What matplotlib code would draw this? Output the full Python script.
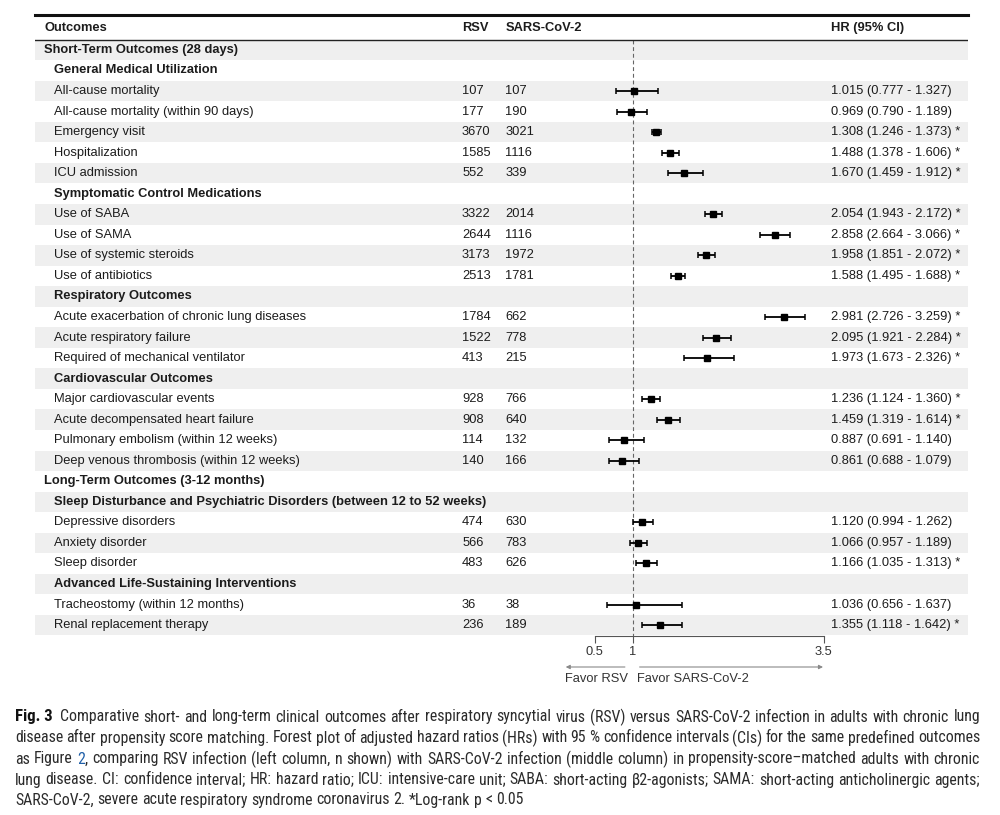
import numpy as np
import matplotlib
matplotlib.use("Agg")
import matplotlib.pyplot as plt
from matplotlib import font_manager as fm

# table rows: level 0 = section, 1 = sub-section, 2 = outcome
labels = [
    "Short-Term Outcomes (28 days)",
    "General Medical Utilization",
    "All-cause mortality",
    "All-cause mortality (within 90 days)",
    "Emergency visit",
    "Hospitalization",
    "ICU admission",
    "Symptomatic Control Medications",
    "Use of SABA",
    "Use of SAMA",
    "Use of systemic steroids",
    "Use of antibiotics",
    "Respiratory Outcomes",
    "Acute exacerbation of chronic lung diseases",
    "Acute respiratory failure",
    "Required of mechanical ventilator",
    "Cardiovascular Outcomes",
    "Major cardiovascular events",
    "Acute decompensated heart failure",
    "Pulmonary embolism (within 12 weeks)",
    "Deep venous thrombosis (within 12 weeks)",
    "Long-Term Outcomes (3-12 months)",
    "Sleep Disturbance and Psychiatric Disorders (between 12 to 52 weeks)",
    "Depressive disorders",
    "Anxiety disorder",
    "Sleep disorder",
    "Advanced Life-Sustaining Interventions",
    "Tracheostomy (within 12 months)",
    "Renal replacement therapy",
]
levels = [0, 1, 2, 2, 2, 2, 2, 1, 2, 2, 2, 2, 1, 2, 2, 2, 1, 2, 2, 2, 2,
          0, 1, 2, 2, 2, 1, 2, 2]
rsv_n = [None, None, 107, 177, 3670, 1585, 552, None, 3322, 2644, 3173, 2513,
         None, 1784, 1522, 413, None, 928, 908, 114, 140,
         None, None, 474, 566, 483, None, 36, 236]
sars_n = [None, None, 107, 190, 3021, 1116, 339, None, 2014, 1116, 1972, 1781,
          None, 662, 778, 215, None, 766, 640, 132, 166,
          None, None, 630, 783, 626, None, 38, 189]
hr = [None, None, 1.015, 0.969, 1.308, 1.488, 1.670, None, 2.054, 2.858, 1.958, 1.588,
      None, 2.981, 2.095, 1.973, None, 1.236, 1.459, 0.887, 0.861,
      None, None, 1.120, 1.066, 1.166, None, 1.036, 1.355]
ci_low = [None, None, 0.777, 0.790, 1.246, 1.378, 1.459, None, 1.943, 2.664, 1.851, 1.495,
          None, 2.726, 1.921, 1.673, None, 1.124, 1.319, 0.691, 0.688,
          None, None, 0.994, 0.957, 1.035, None, 0.656, 1.118]
ci_high = [None, None, 1.327, 1.189, 1.373, 1.606, 1.912, None, 2.172, 3.066, 2.072, 1.688,
           None, 3.259, 2.284, 2.326, None, 1.360, 1.614, 1.140, 1.079,
           None, None, 1.262, 1.189, 1.313, None, 1.637, 1.642]
signif = [False, False, False, False, True, True, True, False, True, True, True, True,
          False, True, True, True, False, True, True, False, False,
          False, False, False, False, True, False, False, True]

col_headers = ["Outcomes", "RSV", "SARS-CoV-2", "HR (95% CI)"]
x_ticks = [0.5, 1, 3.5]
x_ticklabels = ["0.5", "1", "3.5"]

caption = [
    "Comparative short- and long-term clinical outcomes after respiratory syncytial virus (RSV) versus SARS-CoV-2 infection in adults with chronic lung",
    "disease after propensity score matching. Forest plot of adjusted hazard ratios (HRs) with 95 % confidence intervals (CIs) for the same predefined outcomes",
    "as Figure 2, comparing RSV infection (left column, n shown) with SARS-CoV-2 infection (middle column) in propensity-score\u2013matched adults with chronic",
    "lung disease. CI: confidence interval; HR: hazard ratio; ICU: intensive-care unit; SABA: short-acting \u03b22-agonists; SAMA: short-acting anticholinergic agents;",
    "SARS-CoV-2, severe acute respiratory syndrome coronavirus 2. *Log-rank p < 0.05",
]

plt.rcParams['font.family'] = ['Liberation Sans', 'DejaVu Sans']
installed = {f.name for f in fm.fontManager.ttflist}
cap_font = 'Liberation Sans'
for name in ['Liberation Sans Narrow', 'Roboto Condensed', 'DejaVu Sans Condensed']:
    if name in installed:
        cap_font = name
        break

TXT = '#1c1c1c'
FS = 9.3

fig = plt.figure(figsize=(10, 8.15), dpi=100)
# axes covers the whole table; x is the HR scale, y is the row index
ax = fig.add_axes([0.035, 1 - 636 / 815, 0.933, (636 - 15) / 815])
ax.set_xlim(-6.848, 5.396)
ax.set_ylim(28.53, -1.70)

n = len(labels)
for i in range(n):
    if i % 2 == 0:
        ax.axhspan(i - 0.5, i + 0.5, color='#efefef', lw=0, zorder=0)

ax.axhline(-1.70, color='#111111', lw=2.2, zorder=3, clip_on=False)
ax.axhline(-0.5, color='#222222', lw=1.0, zorder=3)
ax.vlines(1, -0.5, 28.53, colors='#666666', linestyles=(0, (3.5, 2.5)), lw=0.8, zorder=1)

tr = ax.get_yaxis_transform()  # x in axes fraction, y in data
col_x = [0.0097, 0.4577, 0.504, 0.8532]
hdr_y = -1.07
for cx, h in zip(col_x, col_headers):
    ax.text(cx, hdr_y, h, transform=tr, fontsize=FS, fontweight='bold', color=TXT, va='center')

for i in range(n):
    x0 = col_x[0] if levels[i] == 0 else 0.0204
    w = 'bold' if levels[i] < 2 else 'normal'
    ax.text(x0, i, labels[i], transform=tr, fontsize=FS, fontweight=w, color=TXT, va='center')
    if hr[i] is None:
        continue
    ax.text(col_x[1], i, str(rsv_n[i]), transform=tr, fontsize=FS, color=TXT, va='center')
    ax.text(col_x[2], i, str(sars_n[i]), transform=tr, fontsize=FS, color=TXT, va='center')
    s = "%.3f (%.3f - %.3f)" % (hr[i], ci_low[i], ci_high[i])
    if signif[i]:
        s += " *"
    ax.text(col_x[3], i, s, transform=tr, fontsize=FS, color=TXT, va='center')

idx = [i for i in range(n) if hr[i] is not None]
h = np.array([hr[i] for i in idx])
lo = np.array([ci_low[i] for i in idx])
hi = np.array([ci_high[i] for i in idx])
ax.errorbar(h, idx, xerr=[h - lo, hi - h], fmt='s', color='black', ms=4,
            capsize=2.5, elinewidth=1.3, capthick=1.1, zorder=4)

for sp in ['top', 'left', 'right']:
    ax.spines[sp].set_visible(False)
ax.spines['bottom'].set_bounds(0.5, 3.5)
ax.spines['bottom'].set_color('#555555')
ax.spines['bottom'].set_linewidth(0.8)
ax.set_yticks([])
ax.set_xticks(x_ticks)
ax.set_xticklabels(x_ticklabels)
ax.tick_params(axis='x', length=5, width=0.8, color='#555555', labelsize=FS,
               labelcolor='#333333', pad=2)

# favour arrows below the axis
arr = dict(arrowstyle='-|>', color='#8a8a8a', lw=0.8, mutation_scale=6)
ay = 1 - 667 / 815
ax.annotate('', xy=(0.08, ay), xytext=(0.93, ay), xycoords=('data', 'figure fraction'),
            textcoords=('data', 'figure fraction'), arrowprops=arr)
ax.annotate('', xy=(3.53, ay), xytext=(1.05, ay), xycoords=('data', 'figure fraction'),
            textcoords=('data', 'figure fraction'), arrowprops=arr)
ty = 1 - 679 / 815
ax.text(0.93, ty, "Favor RSV", transform=ax.get_xaxis_transform().__class__(ax.transData, fig.transFigure),
        fontsize=FS, color='#333333', ha='right', va='center')
ax.text(1.05, ty, "Favor SARS-CoV-2", transform=ax.get_xaxis_transform().__class__(ax.transData, fig.transFigure),
        fontsize=FS, color='#333333', ha='left', va='center')

# caption, justified like the journal layout
renderer = fig.canvas.get_renderer()
CAP_COL = '#2b2b2b'


def text_w(s, size, weight='normal'):
    t = fig.text(0, 0, s, fontsize=size, family=[cap_font, 'DejaVu Sans'], fontweight=weight)
    w = t.get_window_extent(renderer).width
    t.remove()
    return w


left_px, right_px = 15, 980
fig_lbl = "Fig. 3"
base = 10.0
lbl_w = text_w(fig_lbl, base * 1.05, 'bold') + text_w("x  x", base) - text_w("xx", base)
widths = [text_w(c, base) for c in caption[:4]]
widths[0] += lbl_w
cap_size = base * min((right_px - left_px) / w for w in widths)

sp_w = text_w("x x", cap_size) - text_w("xx", cap_size)
line_y = [717, 738, 759, 780, 800]
for k, line in enumerate(caption):
    y = 1 - line_y[k] / 815
    x = left_px
    if k == 0:
        fig.text(x / 1000, y, fig_lbl, fontsize=cap_size * 1.05, fontweight='bold',
                 family=[cap_font, 'DejaVu Sans'], color='#111111', va='center')
        x += text_w(fig_lbl, cap_size * 1.05, 'bold') + 2 * sp_w
    words = line.split(' ')
    ww = [text_w(w, cap_size) for w in words]
    if k < 4:
        gap = (right_px - x - sum(ww)) / (len(words) - 1)
    else:
        gap = sp_w
    for w, wd in zip(words, ww):
        if w == "2,":
            fig.text(x / 1000, y, "2", fontsize=cap_size, family=[cap_font, 'DejaVu Sans'],
                     color='#1f5fa8', va='center')
            fig.text((x + text_w("2", cap_size)) / 1000, y, ",", fontsize=cap_size,
                     family=[cap_font, 'DejaVu Sans'], color=CAP_COL, va='center')
        else:
            fig.text(x / 1000, y, w, fontsize=cap_size, family=[cap_font, 'DejaVu Sans'],
                     color=CAP_COL, va='center')
        x += wd + gap

fig.savefig("out.png", dpi=100)
